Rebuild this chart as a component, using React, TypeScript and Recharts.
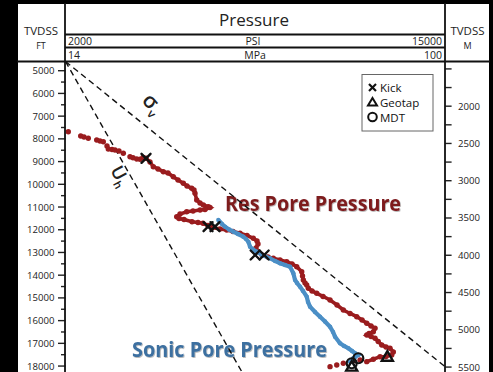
import React from 'react';
import { ScatterChart, Scatter, XAxis, YAxis, CartesianGrid, ReferenceLine } from 'recharts';

// ---------- data ----------
const psiTicks = [2000, 3000, 4000, 5000, 6000, 7000, 8000, 9000, 10000, 11000, 12000, 13000, 14000, 15000];
const ftTicks = [5000, 5500, 6000, 6500, 7000, 7500, 8000, 8500, 9000, 9500, 10000, 10500, 11000, 11500, 12000, 12500, 13000, 13500, 14000, 14500, 15000, 15500, 16000, 16500, 17000, 17500, 18000, 18500, 19000, 19500];
const ftLabels = [5000, 6000, 7000, 8000, 9000, 10000, 11000, 12000, 13000, 14000, 15000, 16000, 17000, 18000];
const mTicks = [1500, 1750, 2000, 2250, 2500, 2750, 3000, 3250, 3500, 3750, 4000, 4250, 4500, 4750, 5000, 5250, 5500, 5750, 6000];
const mLabels = [2000, 2500, 3000, 3500, 4000, 4500, 5000, 5500];
const psiRow = ['2000', 'PSI', '15000'];
const mpaRow = ['14', 'MPa', '100'];
const legendItems = ['Kick', 'Geotap', 'MDT'];

const ftDomain = [4595, 19934];
const FT_PER_M = 3.28084;

const resTop = [
  { psi: 2096, depth: 7685 }, { psi: 2521, depth: 7874 }, { psi: 2634, depth: 7918 }, { psi: 2781, depth: 7975 },
  { psi: 3069, depth: 8050 }, { psi: 3182, depth: 8094 }, { psi: 3295, depth: 8125 }, { psi: 3421, depth: 8314 },
  { psi: 3466, depth: 8446 }, { psi: 3593, depth: 8468 }, { psi: 3695, depth: 8490 }, { psi: 3832, depth: 8534 },
  { psi: 3980, depth: 8635 }, { psi: 4209, depth: 8785 }, { psi: 4312, depth: 8829 }, { psi: 4439, depth: 8886 },
  { psi: 4552, depth: 8899 },
];

const resMain = [
  { psi: 4654, depth: 8820 }, { psi: 4757, depth: 8855 }, { psi: 4894, depth: 9018 }, { psi: 5007, depth: 9225 },
  { psi: 5168, depth: 9326 }, { psi: 5350, depth: 9445 }, { psi: 5511, depth: 9502 }, { psi: 5692, depth: 9665 },
  { psi: 5853, depth: 9810 }, { psi: 6035, depth: 9955 }, { psi: 6161, depth: 10074 }, { psi: 6322, depth: 10176 },
  { psi: 6401, depth: 10250 }, { psi: 6435, depth: 10396 }, { psi: 6494, depth: 10691 }, { psi: 6607, depth: 10823 },
  { psi: 6720, depth: 10911 }, { psi: 6891, depth: 10986 }, { psi: 6949, depth: 11021 }, { psi: 6778, depth: 11109 },
  { psi: 6607, depth: 11131 }, { psi: 6367, depth: 11175 }, { psi: 6151, depth: 11206 }, { psi: 5922, depth: 11307 },
  { psi: 5809, depth: 11425 }, { psi: 5887, depth: 11505 }, { psi: 6059, depth: 11549 }, { psi: 6333, depth: 11646 },
  { psi: 6538, depth: 11681 }, { psi: 6709, depth: 11716 }, { psi: 6881, depth: 11813 }, { psi: 7018, depth: 11901 },
  { psi: 7292, depth: 11967 }, { psi: 7521, depth: 12011 }, { psi: 7737, depth: 12077 }, { psi: 7977, depth: 12156 },
  { psi: 8216, depth: 12253 }, { psi: 8432, depth: 12376 }, { psi: 8559, depth: 12495 }, { psi: 8593, depth: 12627 },
  { psi: 8524, depth: 12803 }, { psi: 8593, depth: 12979 }, { psi: 8730, depth: 13111 }, { psi: 8935, depth: 13199 },
  { psi: 9117, depth: 13256 }, { psi: 9346, depth: 13331 }, { psi: 9576, depth: 13406 }, { psi: 9758, depth: 13507 },
  { psi: 9919, depth: 13626 }, { psi: 10090, depth: 13846 }, { psi: 10117, depth: 14035 }, { psi: 10145, depth: 14211 },
  { psi: 10203, depth: 14343 }, { psi: 10261, depth: 14431 }, { psi: 10316, depth: 14577 }, { psi: 10443, depth: 14695 },
  { psi: 10604, depth: 14797 }, { psi: 10819, depth: 14937 }, { psi: 11059, depth: 15092 }, { psi: 11299, depth: 15312 },
  { psi: 11515, depth: 15532 }, { psi: 11744, depth: 15686 }, { psi: 11974, depth: 15827 }, { psi: 12156, depth: 15972 },
  { psi: 12317, depth: 16117 }, { psi: 12464, depth: 16236 }, { psi: 12601, depth: 16337 }, { psi: 12543, depth: 16487 },
  { psi: 12396, depth: 16566 }, { psi: 12317, depth: 16632 }, { psi: 12464, depth: 16698 }, { psi: 12601, depth: 16777 },
  { psi: 12709, depth: 16918 }, { psi: 12830, depth: 17072 }, { psi: 12977, depth: 17160 }, { psi: 13114, depth: 17217 },
  { psi: 13227, depth: 17380 }, { psi: 13172, depth: 17512 }, { psi: 12977, depth: 17578 }, { psi: 12772, depth: 17587 },
  { psi: 12542, depth: 17702 }, { psi: 12316, depth: 17807 },
];

const resTail = [
  { psi: 12087, depth: 17732 }, { psi: 11839, depth: 17777 }, { psi: 11515, depth: 17877 },
  { psi: 11289, depth: 17952 }, { psi: 11059, depth: 18027 },
];

const sonic = [
  { psi: 7233, depth: 11571 }, { psi: 7360, depth: 11747 }, { psi: 7463, depth: 11866 }, { psi: 7600, depth: 11989 },
  { psi: 7747, depth: 12086 }, { psi: 7908, depth: 12187 }, { psi: 8090, depth: 12306 }, { psi: 8182, depth: 12407 },
  { psi: 8261, depth: 12526 }, { psi: 8319, depth: 12746 }, { psi: 8422, depth: 12869 }, { psi: 8549, depth: 12966 },
  { psi: 8730, depth: 13111 }, { psi: 9004, depth: 13256 }, { psi: 9175, depth: 13375 }, { psi: 9346, depth: 13476 },
  { psi: 9518, depth: 13551 }, { psi: 9689, depth: 13626 }, { psi: 9802, depth: 13916 }, { psi: 9860, depth: 14211 },
  { psi: 9929, depth: 14343 }, { psi: 10032, depth: 14506 }, { psi: 10134, depth: 14695 }, { psi: 10261, depth: 14946 },
  { psi: 10306, depth: 15180 }, { psi: 10374, depth: 15386 }, { psi: 10545, depth: 15620 }, { psi: 10716, depth: 15827 },
  { psi: 10887, depth: 16038 }, { psi: 11059, depth: 16267 }, { psi: 11162, depth: 16500 }, { psi: 11230, depth: 16707 },
  { psi: 11401, depth: 16997 }, { psi: 11538, depth: 17116 }, { psi: 11686, depth: 17217 }, { psi: 11813, depth: 17336 },
  { psi: 11915, depth: 17437 }, { psi: 12028, depth: 17512 }, { psi: 11915, depth: 17600 }, { psi: 11857, depth: 17657 },
  { psi: 11744, depth: 17807 },
];

const kicks = [
  { psi: 4757, depth: 8855 }, { psi: 6881, depth: 11866 }, { psi: 7120, depth: 11866 },
  { psi: 8495, depth: 13111 }, { psi: 8803, depth: 13111 },
];
const geotaps = [{ psi: 13022, depth: 17587 }, { psi: 11802, depth: 18027 }];
const mdts = [{ psi: 12028, depth: 17657 }, { psi: 11802, depth: 17877 }];

const sigmaV = [{ psi: 2000, depth: 4595 }, { psi: 15000, depth: 18024 }];
const uH = [{ psi: 2000, depth: 4595 }, { psi: 8591, depth: 19500 }];

// ---------- styles ----------
const FONT = '"Open Sans", "DejaVu Sans", sans-serif';
const RED = '#9a1c1e';
const BLUE = '#4b8fc6';

const LeftTick = (props: any) => {
  const { x, y, payload } = props;
  const v = payload.value;
  const major = ftLabels.includes(v);
  return (
    <g>
      <line x1={x - (major ? 7.5 : 4.5)} x2={x} y1={y} y2={y} stroke="#222" strokeWidth={1.4} />
      {major && (
        <text x={x - 11} y={y} textAnchor="end" dominantBaseline="central" fontSize={9.6} fill="#222" fontFamily={FONT}>
          {v}
        </text>
      )}
    </g>
  );
};

const RightTick = (props: any) => {
  const { x, y, payload } = props;
  const v = payload.value;
  const major = mLabels.includes(v);
  return (
    <g>
      <line x1={x} x2={x + 6.5} y1={y} y2={y} stroke="#222" strokeWidth={1.4} />
      {major && (
        <text x={x + 13} y={y} textAnchor="start" dominantBaseline="central" fontSize={9.6} fill="#222" fontFamily={FONT}>
          {v}
        </text>
      )}
    </g>
  );
};

const RedDot = (p: any) => <circle cx={p.cx} cy={p.cy} r={2.7} fill={RED} />;
const BlueDot = (p: any) => <circle cx={p.cx} cy={p.cy} r={2.2} fill={BLUE} />;
const KickMark = (p: any) => (
  <g stroke="#111" strokeWidth={2.4} strokeLinecap="round">
    <line x1={p.cx - 4.5} y1={p.cy - 4.5} x2={p.cx + 4.5} y2={p.cy + 4.5} />
    <line x1={p.cx - 4.5} y1={p.cy + 4.5} x2={p.cx + 4.5} y2={p.cy - 4.5} />
  </g>
);
const TriMark = (p: any) => (
  <polygon
    points={`${p.cx},${p.cy - 5.5} ${p.cx + 5.5},${p.cy + 4} ${p.cx - 5.5},${p.cy + 4}`}
    fill="none" stroke="#111" strokeWidth={2.4} strokeLinejoin="miter"
  />
);
const CircMark = (p: any) => <circle cx={p.cx} cy={p.cy} r={5} fill="none" stroke="#111" strokeWidth={2.2} />;

export default function App() {
  return (
    <div style={{ position: 'absolute', left: 0, top: 0, width: 493, height: 372, overflow: 'hidden', background: '#000' }}>
      {/* white panel */}
      <div style={{ position: 'absolute', left: 18, top: 4, width: 471, height: 420, background: '#fff' }} />

      {/* labels under the chart */}
      <svg width={493} height={372} style={{ position: 'absolute', left: 0, top: 0 }}>
        <defs>
          <filter id="sh" x="-10%" y="-30%" width="120%" height="160%">
            <feDropShadow dx="0.8" dy="0.8" stdDeviation="0.7" floodColor="#000" floodOpacity="0.35" />
          </filter>
        </defs>
        <text x={225} y={211} fontFamily={FONT} fontWeight={700} fontSize={21} fill="#7d1a1e" textLength={176}
          lengthAdjust="spacingAndGlyphs" filter="url(#sh)">Res Pore Pressure</text>
        <text x={132} y={357} fontFamily={FONT} fontWeight={700} fontSize={21} fill="#3c6fa0" textLength={195}
          lengthAdjust="spacingAndGlyphs" filter="url(#sh)">Sonic Pore Pressure</text>
        <text transform="translate(141,101) rotate(48)" fontFamily={FONT} fontSize={21} fontWeight={600} fill="#222">
          σ<tspan fontSize={12} dy={5}>v</tspan>
        </text>
        <text transform="translate(110,170) rotate(62)" fontFamily={FONT} fontSize={18} fontWeight={600} fill="#222">
          U<tspan fontSize={11} dy={4}>h</tspan>
        </text>
      </svg>

      <div style={{ position: 'absolute', left: 0, top: 0 }}>
        <ScatterChart width={493} height={410} margin={{ top: 0, right: 0, bottom: 0, left: 0 }}>
          <CartesianGrid vertical horizontal={false} stroke="#dedede" strokeWidth={1} yAxisId="ft" />
          <XAxis type="number" dataKey="psi" orientation="top" domain={[2000, 15000]} ticks={psiTicks}
            height={61.5} tick={false} tickSize={5} tickLine={{ stroke: '#8a8a8a', strokeWidth: 1.2 }} axisLine={false}
            allowDataOverflow interval={0} />
          <YAxis yAxisId="ft" type="number" dataKey="depth" orientation="left" reversed domain={ftDomain}
            ticks={ftTicks} width={65.5} tick={<LeftTick />} tickLine={false} tickSize={0} tickMargin={0}
            axisLine={false} interval={0} allowDataOverflow />
          <YAxis yAxisId="m" type="number" orientation="right" reversed
            domain={[ftDomain[0] / FT_PER_M, ftDomain[1] / FT_PER_M]} ticks={mTicks} width={47.9}
            tick={<RightTick />} tickLine={false} tickSize={0} tickMargin={0} axisLine={false} interval={0}
            allowDataOverflow />
          <ReferenceLine yAxisId="ft" segment={[{ x: sigmaV[0].psi, y: sigmaV[0].depth }, { x: sigmaV[1].psi, y: sigmaV[1].depth }]}
            stroke="#111" strokeWidth={1.4} strokeDasharray="6 4" ifOverflow="visible" />
          <ReferenceLine yAxisId="ft" segment={[{ x: uH[0].psi, y: uH[0].depth }, { x: uH[1].psi, y: uH[1].depth }]}
            stroke="#111" strokeWidth={1.4} strokeDasharray="6 4" ifOverflow="visible" />
          <Scatter yAxisId="ft" data={resTop} shape={RedDot} isAnimationActive={false} />
          <Scatter yAxisId="ft" data={resMain} shape={RedDot} line={{ stroke: RED, strokeWidth: 3.6 }}
            isAnimationActive={false} />
          <Scatter yAxisId="ft" data={resTail} shape={RedDot} isAnimationActive={false} />
          <Scatter yAxisId="ft" data={sonic} shape={BlueDot} line={{ stroke: BLUE, strokeWidth: 4.2 }}
            isAnimationActive={false} />
          <Scatter yAxisId="ft" data={kicks} shape={KickMark} isAnimationActive={false} />
          <Scatter yAxisId="ft" data={geotaps} shape={TriMark} isAnimationActive={false} />
          <Scatter yAxisId="ft" data={mdts} shape={CircMark} isAnimationActive={false} />
        </ScatterChart>
      </div>

      {/* frame, header, legend */}
      <svg width={493} height={372} style={{ position: 'absolute', left: 0, top: 0, pointerEvents: 'none' }}>
        <g stroke="#111" strokeWidth={1.8}>
          <line x1={65} y1={3} x2={65} y2={372} />
          <line x1={445} y1={3} x2={445} y2={372} />
          <line x1={17} y1={61.5} x2={490} y2={61.5} />
          <line x1={65} y1={34.5} x2={445} y2={34.5} />
          <line x1={65} y1={47.5} x2={445} y2={47.5} />
        </g>
        <g fontFamily={FONT} fill="#222">
          <text x={41} y={35} textAnchor="middle" fontSize={11.5}>TVDSS</text>
          <text x={41} y={49} textAnchor="middle" fontSize={9}>FT</text>
          <text x={467.5} y={35} textAnchor="middle" fontSize={11.5}>TVDSS</text>
          <text x={467.5} y={49} textAnchor="middle" fontSize={9}>M</text>
          <text x={254} y={26} textAnchor="middle" fontSize={17}>Pressure</text>
          <text x={68} y={44.5} textAnchor="start" fontSize={10.5}>{psiRow[0]}</text>
          <text x={253} y={44.5} textAnchor="middle" fontSize={10.5}>{psiRow[1]}</text>
          <text x={442} y={44.5} textAnchor="end" fontSize={10.5}>{psiRow[2]}</text>
          <text x={68} y={58.5} textAnchor="start" fontSize={10.5}>{mpaRow[0]}</text>
          <text x={255} y={58.5} textAnchor="middle" fontSize={10.5}>{mpaRow[1]}</text>
          <text x={442} y={58.5} textAnchor="end" fontSize={10.5}>{mpaRow[2]}</text>
        </g>
        <rect x={362} y={74.5} width={71} height={56.5} fill="#fff" stroke="#666" strokeWidth={1} />
        <g stroke="#111" strokeWidth={2.2} fill="none">
          <line x1={369} y1={84} x2={376} y2={91} />
          <line x1={369} y1={91} x2={376} y2={84} />
          <polygon points="372.5,98 377,105.5 368,105.5" strokeWidth={2} />
          <circle cx={372.5} cy={117} r={4.3} strokeWidth={2} />
        </g>
        <g fontFamily={FONT} fontSize={11.5} fill="#111">
          <text x={380} y={92}>{legendItems[0]}</text>
          <text x={380} y={106.5}>{legendItems[1]}</text>
          <text x={380} y={121.5}>{legendItems[2]}</text>
        </g>
      </svg>
    </div>
  );
}
